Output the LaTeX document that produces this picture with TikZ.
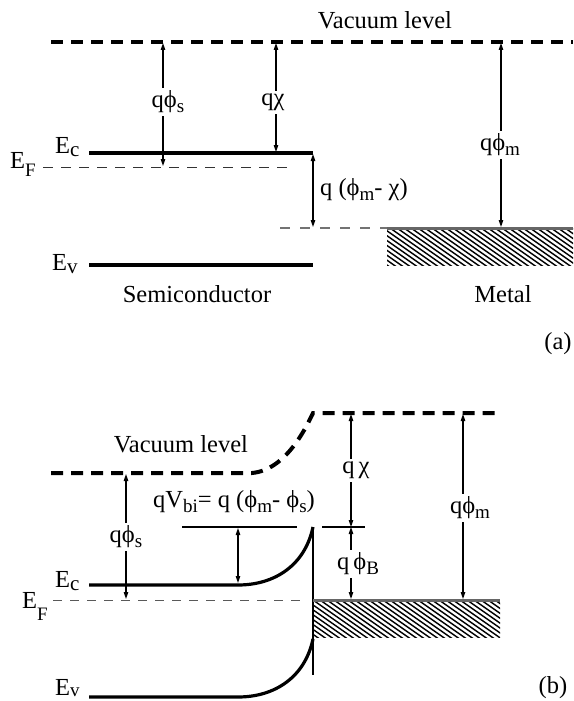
\documentclass[tikz,border=0pt]{standalone}
\usepackage{fontspec}
\setmainfont{Liberation Serif}
\usetikzlibrary{arrows.meta}
\newcommand{\sbx}[1]{\raisebox{-5pt}{\fontsize{19}{20}\selectfont #1}}
\newcommand{\sbc}[1]{\raisebox{-3pt}{\fontsize{21}{22}\selectfont #1}}
\newcommand{\sbf}[2]{\raisebox{-#1pt}{\fontsize{19}{20}\selectfont #2}}
\begin{document}
\begin{tikzpicture}[x=1pt,y=-1pt,
  every node/.style={font=\fontsize{24.5}{28}\selectfont, inner sep=0pt},
  vac/.style={line width=4pt, dash pattern=on 12pt off 8pt},
  band/.style={line width=3.2pt},
  fermiA/.style={line width=1pt, dash pattern=on 10pt off 8pt, black!80},
  fermiB/.style={line width=0.9pt, dash pattern=on 9pt off 8pt, black!65},
  metallevel/.style={line width=1.8pt, dash pattern=on 10pt off 10pt, black!55},
  dim/.style={line width=1.1pt, {Triangle[length=7pt,width=4.5pt]}-{Triangle[length=7pt,width=4.5pt]}},
  lab/.style={fill=white, inner sep=3pt},
  metaltop/.style={line width=3pt, black!60},
  hatch/.style={line width=1.4pt},
  thinline/.style={line width=1.2pt}
]
\useasboundingbox (0,0) rectangle (573,701);

% ================= (a) =================
\coordinate (va1) at (51,42); \coordinate (va2) at (573,42);
\draw[vac] (va1) -- (va2);
\node[anchor=base] (vaclabA) at (385,29) {Vacuum level};

\coordinate (ecA1) at (89,153); \coordinate (ecA2) at (313,153);
\draw[band] (ecA1) -- (ecA2);
\coordinate (evA1) at (89,265); \coordinate (evA2) at (313,265);
\draw[band] (evA1) -- (evA2);
\coordinate (efA1) at (43,167); \coordinate (efA2) at (294,167);
\draw[fermiA] (efA1) -- (efA2);
\coordinate (mlA1) at (280,228); \coordinate (mlA2) at (387,228);
\draw[metallevel] (mlA1) -- (mlA2);

\begin{scope}
  \clip (387,228) rectangle (573,265);
  \foreach \i in {0,...,40} \draw[hatch] (320+7*\i,228) -- ++(60,42);
\end{scope}
\coordinate (mtA1) at (387,228); \coordinate (mtA2) at (573,228);
\draw[metaltop] (mtA1) -- (mtA2);

\node[anchor=base west] (EcA) at (55,153) {E\sbc{c}};
\node[anchor=base west] (EfA) at (10,168) {E\sbf{8}{F}};
\node[anchor=base west] (EvA) at (52,270) {E\sbc{v}};

\coordinate (sA1) at (163,43); \coordinate (sA2) at (163,166);
\draw[dim] (sA1) -- (sA2);
\node[lab] (qphisA) at (168,102) {qϕ\sbx{s}};

\coordinate (cA1) at (276,43); \coordinate (cA2) at (276,152);
\draw[dim] (cA1) -- (cA2);
\node[lab] (qchiA) at (273,102) {qχ};

\coordinate (mA1) at (501,43); \coordinate (mA2) at (501,227);
\draw[dim] (mA1) -- (mA2);
\node[lab] (qphimA) at (500,145) {qϕ\sbx{m}};

\coordinate (dA1) at (313,154); \coordinate (dA2) at (313,227);
\draw[dim] (dA1) -- (dA2);
\node[anchor=west] (diffA) at (320,190) {q (ϕ\sbx{m}- χ)};

\node[anchor=base] (semi) at (197,302) {Semiconductor};
\node[anchor=base] (metal) at (503,302) {Metal};
\node (tagA) at (558,344) {(a)};

% ================= (b) =================
\coordinate (vb1) at (51,473); \coordinate (vb2) at (252,473);
\coordinate (vb3) at (313,413); \coordinate (vb4) at (501,413);
\draw[vac] (vb1) -- (vb2) .. controls (285,470) and (305,430) .. (vb3) -- (vb4);
\node[anchor=base] (vaclabB) at (181,452) {Vacuum level};

\coordinate (ecB1) at (89,585); \coordinate (ecB2) at (238,585); \coordinate (ecB3) at (313,527);
\draw[band] (ecB1) -- (ecB2) .. controls (275,585) and (305,565) .. (ecB3);
\coordinate (evB1) at (89,697); \coordinate (evB2) at (238,697); \coordinate (evB3) at (313,639);
\draw[band] (evB1) -- (evB2) .. controls (275,697) and (305,677) .. (evB3);
\coordinate (ifB) at (313,675);
\draw[thinline] (ecB3) -- (ifB);

\coordinate (efB1) at (53,600); \coordinate (efB2) at (307,600);
\draw[fermiB] (efB1) -- (efB2);

\begin{scope}
  \clip (313,600) rectangle (500,637);
  \foreach \i in {0,...,36} \draw[hatch] (250+7*\i,600) -- ++(60,42);
\end{scope}
\coordinate (mtB1) at (313,600); \coordinate (mtB2) at (500,600);
\draw[metaltop] (mtB1) -- (mtB2);

\coordinate (rl1) at (182,527); \coordinate (rl2) at (297,527);
\draw[thinline] (rl1) -- (rl2);
\coordinate (rr1) at (322,527); \coordinate (rr2) at (365,527);
\draw[thinline] (rr1) -- (rr2);

\node[anchor=base west] (EcB) at (55,587) {E\sbc{c}};
\node[anchor=base west] (EfB) at (22,608) {E\sbf{12}{F}};
\node[anchor=base west] (EvB) at (55,695) {E\sbf{1.5}{v}};

\coordinate (sB1) at (126,474); \coordinate (sB2) at (126,599);
\draw[dim] (sB1) -- (sB2);
\node[lab] (qphisB) at (126,537) {qϕ\sbx{s}};

\coordinate (vbi1) at (238,528); \coordinate (vbi2) at (238,583);
\draw[dim] (vbi1) -- (vbi2);
\node[anchor=base west] (qvbi) at (153,507) {qV\sbx{bi}= q (ϕ\sbx{m}- ϕ\sbx{s})};

\coordinate (cB1) at (351,414); \coordinate (cB2) at (351,527);
\draw[dim] (cB1) -- (cB2);
\node[lab] (qchiB) at (356,470) {q\,χ};

\coordinate (bB1) at (351,527); \coordinate (bB2) at (351,599);
\draw[dim] (bB1) -- (bB2);
\node[lab] (qphiB) at (358,564) {q\,ϕ\sbx{B}};

\coordinate (mB1) at (463,414); \coordinate (mB2) at (463,599);
\draw[dim] (mB1) -- (mB2);
\node[lab] (qphimB) at (470,508) {qϕ\sbx{m}};

\node (tagB) at (553,688) {(b)};
\end{tikzpicture}
\end{document}
